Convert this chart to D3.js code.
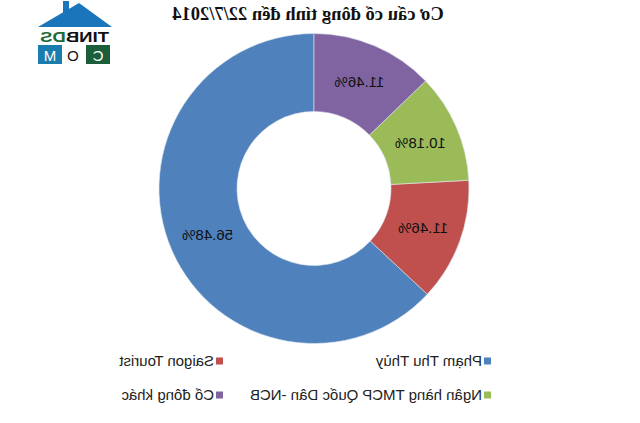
<!DOCTYPE html>
<html>
<head>
<meta charset="utf-8">
<script src="https://cdn.jsdelivr.net/npm/d3@7"></script>
<style>
  body { margin: 0; background: #fff; }
  svg { display: block; }
</style>
</head>
<body>
<svg id="chart"></svg>
<script>
'use strict'

// data
const title = 'Cơ cấu cổ đông tính đến 22/7/2014'
const categories = ['Phạm Thu Thủy', 'Saigon Tourist', 'Ngân hàng TMCP Quốc Dân -NCB', 'Cổ đông khác']
const values = [56.48, 11.46, 10.18, 11.46]
const labels = ['56.48%', '11.46%', '10.18%', '11.46%']
const colors = ['#4f81bd', '#c0504d', '#9bbb59', '#8064a2']

const width = 640
const height = 423

const svg = d3.select('#chart')
  .attr('width', width)
  .attr('height', height)

// the reference picture is flipped left-right, so the whole drawing is mirrored
const root = svg.append('g')
  .attr('transform', 'translate(' + width + ',0) scale(-1,1)')

// title
root.append('text')
  .attr('x', 332)
  .attr('y', 20)
  .attr('text-anchor', 'middle')
  .style('font-family', '"Liberation Serif", "DejaVu Serif", serif')
  .style('font-weight', 'bold')
  .style('font-size', '18.5px')
  .attr('fill', '#111')
  .text(title)

// doughnut
const cx = 326
const cy = 188.5
const outerR = 155
const innerR = 77

const pie = d3.pie().sort(null).value((d) => d)
const arc = d3.arc().innerRadius(innerR).outerRadius(outerR)
const arcs = pie(values)

const donut = root.append('g')
  .attr('transform', 'translate(' + cx + ',' + cy + ')')

donut.selectAll('path')
  .data(arcs)
  .enter().append('path')
    .attr('d', arc)
    .attr('fill', (d, i) => colors[i])
    .attr('stroke', '#dfe6ef')
    .attr('stroke-width', 0.6)

donut.selectAll('text')
  .data(arcs)
  .enter().append('text')
    .attr('transform', (d) => 'translate(' + arc.centroid(d) + ')')
    .attr('text-anchor', 'middle')
    .attr('dy', '0.35em')
    .style('font-family', '"Liberation Sans", Arial, sans-serif')
    .style('font-size', '15px')
    .attr('fill', '#111')
    .text((d, i) => labels[i])

// legend: 2 columns, 2 rows
const legendX = d3.scaleOrdinal().domain([0, 1]).range([149, 417])
const legendY = d3.scaleOrdinal().domain([0, 1]).range([361, 395])

const legend = root.selectAll('.legend')
  .data(categories)
  .enter().append('g')
    .attr('class', 'legend')
    .attr('transform', (d, i) => 'translate(' + legendX(i % 2) + ',' + legendY(Math.floor(i / 2)) + ')')

legend.append('rect')
  .attr('x', 0)
  .attr('y', -3.5)
  .attr('width', 7)
  .attr('height', 7)
  .attr('fill', (d, i) => colors[i])

legend.append('text')
  .attr('x', 9)
  .attr('dy', '0.35em')
  .style('font-family', '"Liberation Sans", Arial, sans-serif')
  .style('font-size', '15px')
  .attr('fill', '#222')
  .text((d) => d)

// watermark logo (top corner)
const logo = root.append('g')
logo.append('rect').attr('x', 571).attr('y', 1).attr('width', 6).attr('height', 14).attr('fill', '#1b75bb')
logo.append('path')
  .attr('d', 'M528,27 L561,3 L602,27 Z')
  .attr('fill', '#1b75bb')
logo.append('text')
  .attr('x', 531).attr('y', 42)
  .attr('textLength', 69)
  .attr('lengthAdjust', 'spacingAndGlyphs')
  .style('font-family', '"Liberation Sans Narrow", "Liberation Sans", sans-serif')
  .style('font-weight', 'bold')
  .style('font-size', '14px')
  .attr('fill', '#111')
  .html('TINB<tspan fill="#1d6b3a">DS</tspan>')
const comBlocks = [
  { ch: 'C', x: 530, bg: '#1a5e3a', fg: '#fff' },
  { ch: 'O', x: 555, bg: '#fff', fg: '#111' },
  { ch: 'M', x: 578, bg: '#1b7cae', fg: '#fff' }
]
comBlocks.forEach((b) => {
  logo.append('rect').attr('x', b.x).attr('y', 45).attr('width', 24).attr('height', 19).attr('fill', b.bg)
  logo.append('text')
    .attr('x', b.x + 12).attr('y', 61)
    .attr('text-anchor', 'middle')
    .style('font-family', '"Liberation Sans", sans-serif')
    .style('font-size', '15px')
    .attr('fill', b.fg)
    .text(b.ch)
})
</script>
</body>
</html>
